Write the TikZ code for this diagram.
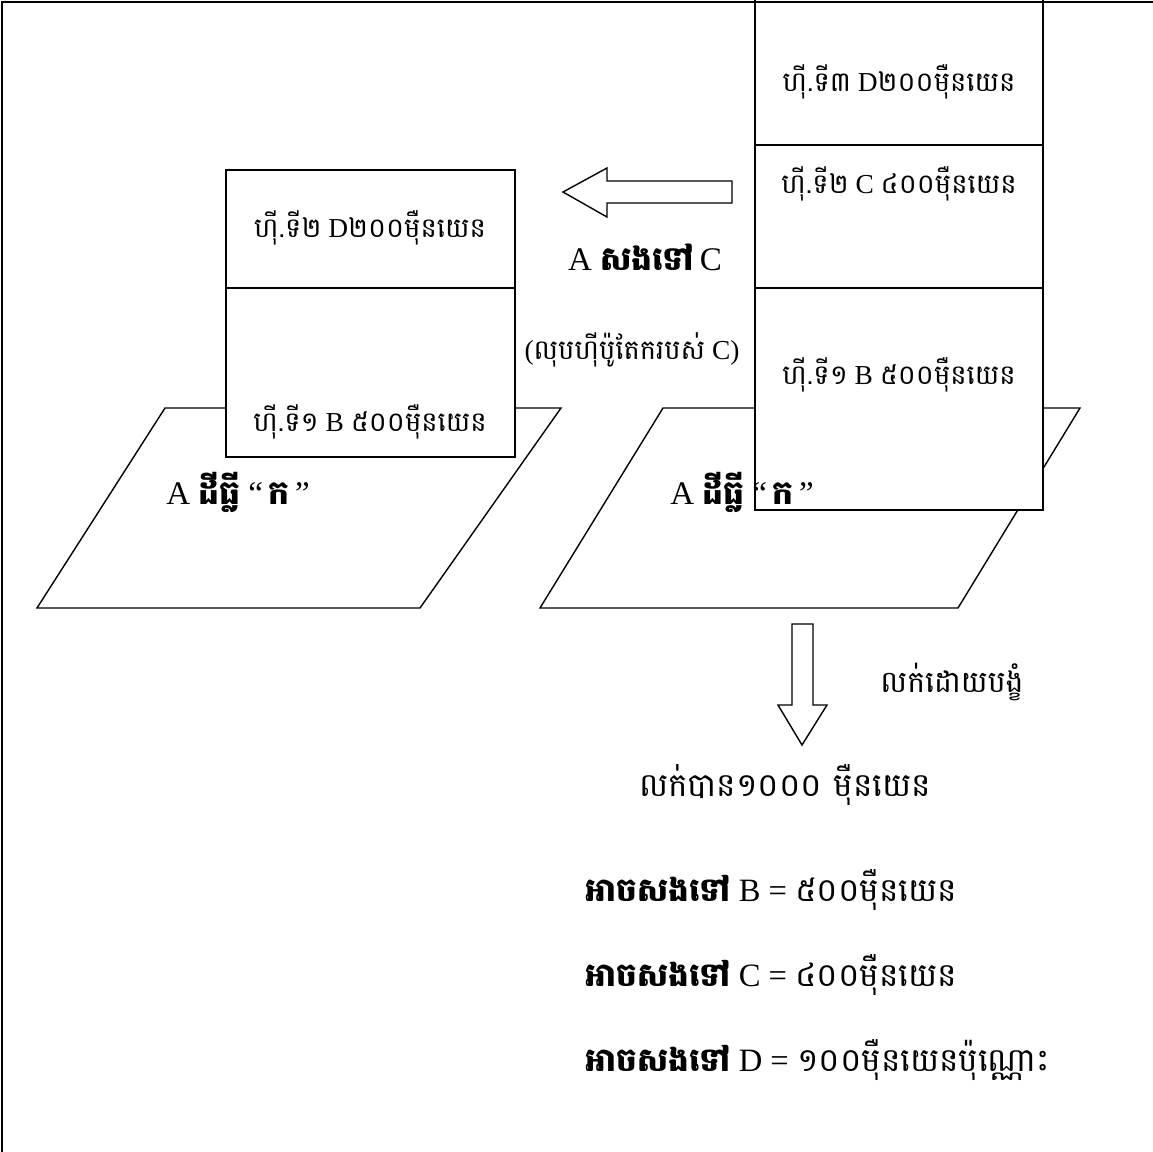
\documentclass[tikz,border=0pt]{standalone}
\usepackage{fontspec}
\setmainfont{Liberation Serif}
\newfontfamily\khmerfont[Script=Khmer]{Battambang}
\newcommand{\kh}[1]{{\khmerfont #1}}
\usepackage{tikz}

\begin{document}
\begin{tikzpicture}[
    x = 0.5pt, y = -0.5pt,
    line width = 0.8pt,
    box/.style   = {draw, fill = white},
    boxtext/.style = {inner sep = 0pt, font = \fontsize{13.7}{16}\selectfont},
    bigtext/.style = {inner sep = 0pt, font = \fontsize{16.3}{19}\selectfont},
    land/.style  = {draw, fill = white, line width = 0.7pt},
    blockarrow/.style = {draw, fill = white, line width = 0.7pt},
]
    \useasboundingbox (0, 0) rectangle (1153, 1152);

    % land parcels
    \coordinate (LTL) at (165, 408);
    \coordinate (LTR) at (561, 408);
    \coordinate (LBR) at (420, 608);
    \coordinate (LBL) at ( 37, 608);
    \draw[land] (LTL) -- (LTR) -- (LBR) -- (LBL) -- cycle;

    \coordinate (RTL) at ( 663, 408);
    \coordinate (RTR) at (1080, 408);
    \coordinate (RBR) at ( 958, 608);
    \coordinate (RBL) at ( 540, 608);
    \draw[land] (RTL) -- (RTR) -- (RBR) -- (RBL) -- cycle;

    % mortgage stacks
    \draw[box] (226, 170) rectangle (515, 288);
    \draw[box] (226, 288) rectangle (515, 457);

    \draw[box] (755,  -5) rectangle (1043, 145);
    \draw[box] (755, 145) rectangle (1043, 288);
    \draw[box] (755, 288) rectangle (1043, 510);

    \draw[line width = 1.2pt] (2, 2) rectangle (1200, 1200);

    \begin{scope}[every node/.style = {boxtext}]
        \node (left2)  at (370, 228) {\kh{ហ៊ី.ទី២} D\kh{២០០មុឺនយេន}};
        \node (left1)  at (370, 422) {\kh{ហ៊ី.ទី១} B \kh{៥០០មុឺនយេន}};
        \node (right3) at (899,  82) {\kh{ហ៊ី.ទី៣} D\kh{២០០មុឺនយេន}};
        \node (right2) at (899, 184) {\kh{ហ៊ី.ទី២} C \kh{៤០០មុឺនយេន}};
        \node (right1) at (899, 375) {\kh{ហ៊ី.ទី១} B \kh{៥០០មុឺនយេន}};
        \node[font = \fontsize{16.5}{19}\selectfont] (landL) at (238, 492)
            {A \kh{\bfseries ដីធ្លី} “\,\kh{\bfseries ក}\,”};
        \node[font = \fontsize{16.5}{19}\selectfont] (landR) at (742, 492)
            {A \kh{\bfseries ដីធ្លី} “\,\kh{\bfseries ក}\,”};
        \node[font = \fontsize{16.5}{19}\selectfont] (repay) at (645, 257)
            {A \kh{\bfseries សងទៅ}\,C};
        \node (erase)  at (632, 350) {(\kh{លុបហ៊ីប៉ូតែករបស់} C)};
        \node[font = \fontsize{15}{18}\selectfont] (forced) at (952, 682)
            {\kh{លក់ដោយបង្ខំ}};
    \end{scope}

    % block arrows
    \draw[blockarrow] (732, 181) -- (607, 181) -- (607, 168) -- (563, 192)
        -- (607, 217) -- (607, 203) -- (732, 203) -- cycle;
    \draw[blockarrow] (792, 624) -- (813, 624) -- (813, 705) -- (827, 705)
        -- (802, 745) -- (778, 705) -- (792, 705) -- cycle;

    \begin{scope}[every node/.style = {bigtext}]
        \node (sold) at (785, 785) {\kh{លក់បាន១០០០ មុឺនយេន}};
        \node[anchor = west] (payB) at (585,  890) {\kh{\bfseries អាចសងទៅ} B = \kh{៥០០មុឺនយេន}};
        \node[anchor = west] (payC) at (585,  975) {\kh{\bfseries អាចសងទៅ} C = \kh{៤០០មុឺនយេន}};
        \node[anchor = west] (payD) at (585, 1060) {\kh{\bfseries អាចសងទៅ} D = \kh{១០០មុឺនយេនប៉ុណ្ណោះ}};
    \end{scope}
\end{tikzpicture}
\end{document}
